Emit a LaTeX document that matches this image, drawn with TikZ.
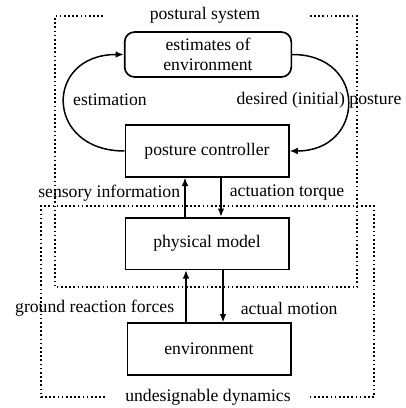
\documentclass[tikz,border=0pt]{standalone}
\usepackage{fontspec}
\setmainfont{Liberation Serif}
\usetikzlibrary{arrows.meta, positioning, calc}

\tikzset{
    every node/.style={font=\fontsize{10.6}{12}\selectfont},
    block/.style={draw, line width=1pt, minimum width=98pt, minimum height=31pt, align=center},
    roundblock/.style={block, rounded corners=6pt, minimum width=100pt, minimum height=27pt},
    flow/.style={line width=0.9pt, -{Latex[length=5pt,width=4pt]}},
    region/.style={line width=1pt, dash pattern=on 1pt off 1.5pt},
}

\begin{document}
\begin{tikzpicture}[x=0.6pt, y=-0.6pt]
    \useasboundingbox (0,0) rectangle (406,408);
    % Blocks
    \node[roundblock] (est) at (208,54.5) {estimates of\\environment};
    \node[block] (ctrl) at (207,151) {posture controller};
    \node[block] (phys) at (207,243.5) {physical model};
    \node[block] (env) at (209,349) {environment};
    % Dotted regions
    \draw[region] (103,16) -| (55,287) -| (357,16) -- (308,16);
    \draw[region] (105,397) -| (41,206) -| (374,397) -- (308,397);
    \node (postural) at (205,15) {postural system};
    \node (undesign) at (208,397) {undesignable dynamics};
    % Loop between controller and estimates
    \draw[flow] (ctrl.west) .. controls +(-80,0) and +(-80,0) .. (est.west);
    \draw[flow] (est.east) .. controls +(76,0) and +(76,0) .. (ctrl.east);
    \node (estlbl) at (110,100) {estimation};
    \node (deslbl) at (319,100) {desired (initial) posture};
    % Controller <-> physical model
    \draw[flow] ($(phys.north)+(-22,0)$) -- ($(ctrl.south)+(-22,0)$);
    \draw[flow] ($(ctrl.south)+(14,0)$) -- ($(phys.north)+(14,0)$);
    \node[anchor=east] (sens) at (186,193) {sensory information};
    \node[anchor=west] (act) at (224,193) {actuation torque};
    % Physical model <-> environment
    \draw[flow] ($(env.north)+(-23,0)$) -- ($(phys.south)+(-21,0)$);
    \draw[flow] ($(phys.south)+(16,0)$) -- ($(env.north)+(14,0)$);
    \node[anchor=east] (grf) at (180,308) {ground reaction forces};
    \node[anchor=west] (motion) at (235,308) {actual motion};
\end{tikzpicture}
\end{document}
